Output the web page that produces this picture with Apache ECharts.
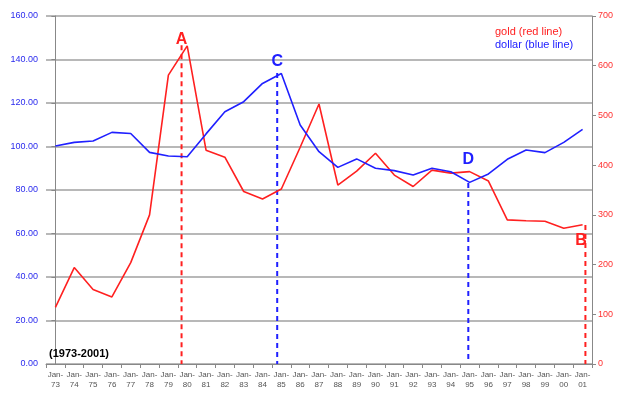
<!DOCTYPE html>
<html><head><meta charset="utf-8">
<script src="https://cdn.jsdelivr.net/npm/echarts@6/dist/echarts.min.js"></script>
<style>html,body{margin:0;padding:0;background:#fff}#c{width:624px;height:397px}</style>
</head><body><div id="c"></div>
<script>
var categories = ['Jan-73','Jan-74','Jan-75','Jan-76','Jan-77','Jan-78','Jan-79','Jan-80','Jan-81','Jan-82','Jan-83','Jan-84','Jan-85','Jan-86','Jan-87','Jan-88','Jan-89','Jan-90','Jan-91','Jan-92','Jan-93','Jan-94','Jan-95','Jan-96','Jan-97','Jan-98','Jan-99','Jan-00','Jan-01'];
var goldValues = [114,194,150,135,204,300,581,640,430,416,347,332,352,436,523,360,388,424,380,357,390,384,387,368,290,288,287,273,280];
var dollarValues = [100.2,101.9,102.5,106.5,106.0,97.3,95.6,95.3,105.8,116.0,120.6,129.0,133.6,109.9,97.6,90.4,94.3,90.0,88.9,86.9,90.0,88.4,83.5,87.4,94.1,98.4,97.2,101.9,107.9];
var leftTicks = {min:0, max:160, interval:20};
var rightTicks = {min:0, max:700, interval:100};
// annotation markers: name, position (category index units), top and bottom (left-axis units)
var markerNames = ['A','C','D','B'];
var markerX = [6.70, 11.78, 21.93, 28.15];
var markerTop = [146.6, 133.8, 83.2, 63.9];
var markerBottom = [0, 0, 1.8, 0];
var markerColors = ['#ff2020','#2020ff','#2020ff','#ff2020'];
var labelPos = [{position:'top',distance:-2},{position:'top',distance:3},{position:'top',distance:15},{position:[-10,8],distance:0}];

var red = '#ff2020', blue = '#2020ff';
var series = [
  {name:'gold (red line)', type:'line', xAxisIndex:0, yAxisIndex:1, data:goldValues, symbol:'none', lineStyle:{color:red,width:1.6}, itemStyle:{color:red}, z:3},
  {name:'dollar (blue line)', type:'line', xAxisIndex:0, yAxisIndex:0, data:dollarValues, symbol:'none', lineStyle:{color:blue,width:1.6}, itemStyle:{color:blue}, z:4}
];
markerNames.forEach(function(n,i){
  series.push({
    name:'marker'+n, type:'line', xAxisIndex:1, yAxisIndex:0, symbol:'none', silent:true,
    lineStyle:{color:markerColors[i], width:2, type:[5,4]},
    data:[
      {value:[markerX[i], markerTop[i]], symbol:'circle', symbolSize:0.1,
       label:Object.assign({show:true, formatter:n, color:markerColors[i], fontSize:16, fontWeight:'bold', fontFamily:'Liberation Sans, Arial'}, labelPos[i])},
      {value:[markerX[i], markerBottom[i]]}
    ], z:2
  });
});

var chart = echarts.init(document.getElementById('c'));
chart.setOption({
  animation:false,
  backgroundColor:'#fff',
  textStyle:{fontFamily:'Liberation Sans, Arial, sans-serif'},
  title:{text:'(1973-2001)', left:44, top:343, textStyle:{fontSize:11, fontWeight:'bold', color:'#000'}},
  legend:{
    data:[{name:'gold (red line)', textStyle:{color:red}}, {name:'dollar (blue line)', textStyle:{color:blue}}],
    orient:'vertical', left:490, top:21, icon:'none', itemWidth:0, itemHeight:10, itemGap:2,
    textStyle:{fontSize:11, padding:[0,0,0,-5]}, selectedMode:false
  },
  grid:{left:46, right:32, top:16, bottom:33, containLabel:false},
  xAxis:[
    {type:'category', data:categories, boundaryGap:true,
     axisLine:{lineStyle:{color:'#888',width:1}},
     axisTick:{show:true, alignWithLabel:false, length:4, lineStyle:{color:'#888'}},
     axisLabel:{interval:0, fontSize:8, color:'#555', lineHeight:10, margin:6,
       formatter:function(v){var p=v.split('-');return p[0]+'-\n'+p[1];}}},
    {type:'value', min:-0.5, max:28.5, show:false}
  ],
  yAxis:[
    {type:'value', position:'left', min:leftTicks.min, max:leftTicks.max, interval:leftTicks.interval,
     axisLine:{show:true, lineStyle:{color:'#888'}},
     axisTick:{show:true, length:4, lineStyle:{color:'#888'}},
     axisLabel:{color:'#2a2aee', fontSize:9, margin:8, formatter:function(v){return v.toFixed(2);}},
     splitLine:{show:true, lineStyle:{color:'#a0a0a0', width:1.5}}},
    {type:'value', position:'right', min:rightTicks.min, max:rightTicks.max, interval:rightTicks.interval,
     axisLine:{show:true, lineStyle:{color:'#888'}},
     axisTick:{show:true, length:4, lineStyle:{color:'#888'}},
     axisLabel:{color:'#ff3030', fontSize:9, margin:6},
     splitLine:{show:false}}
  ],
  series:series
});
</script></body></html>
